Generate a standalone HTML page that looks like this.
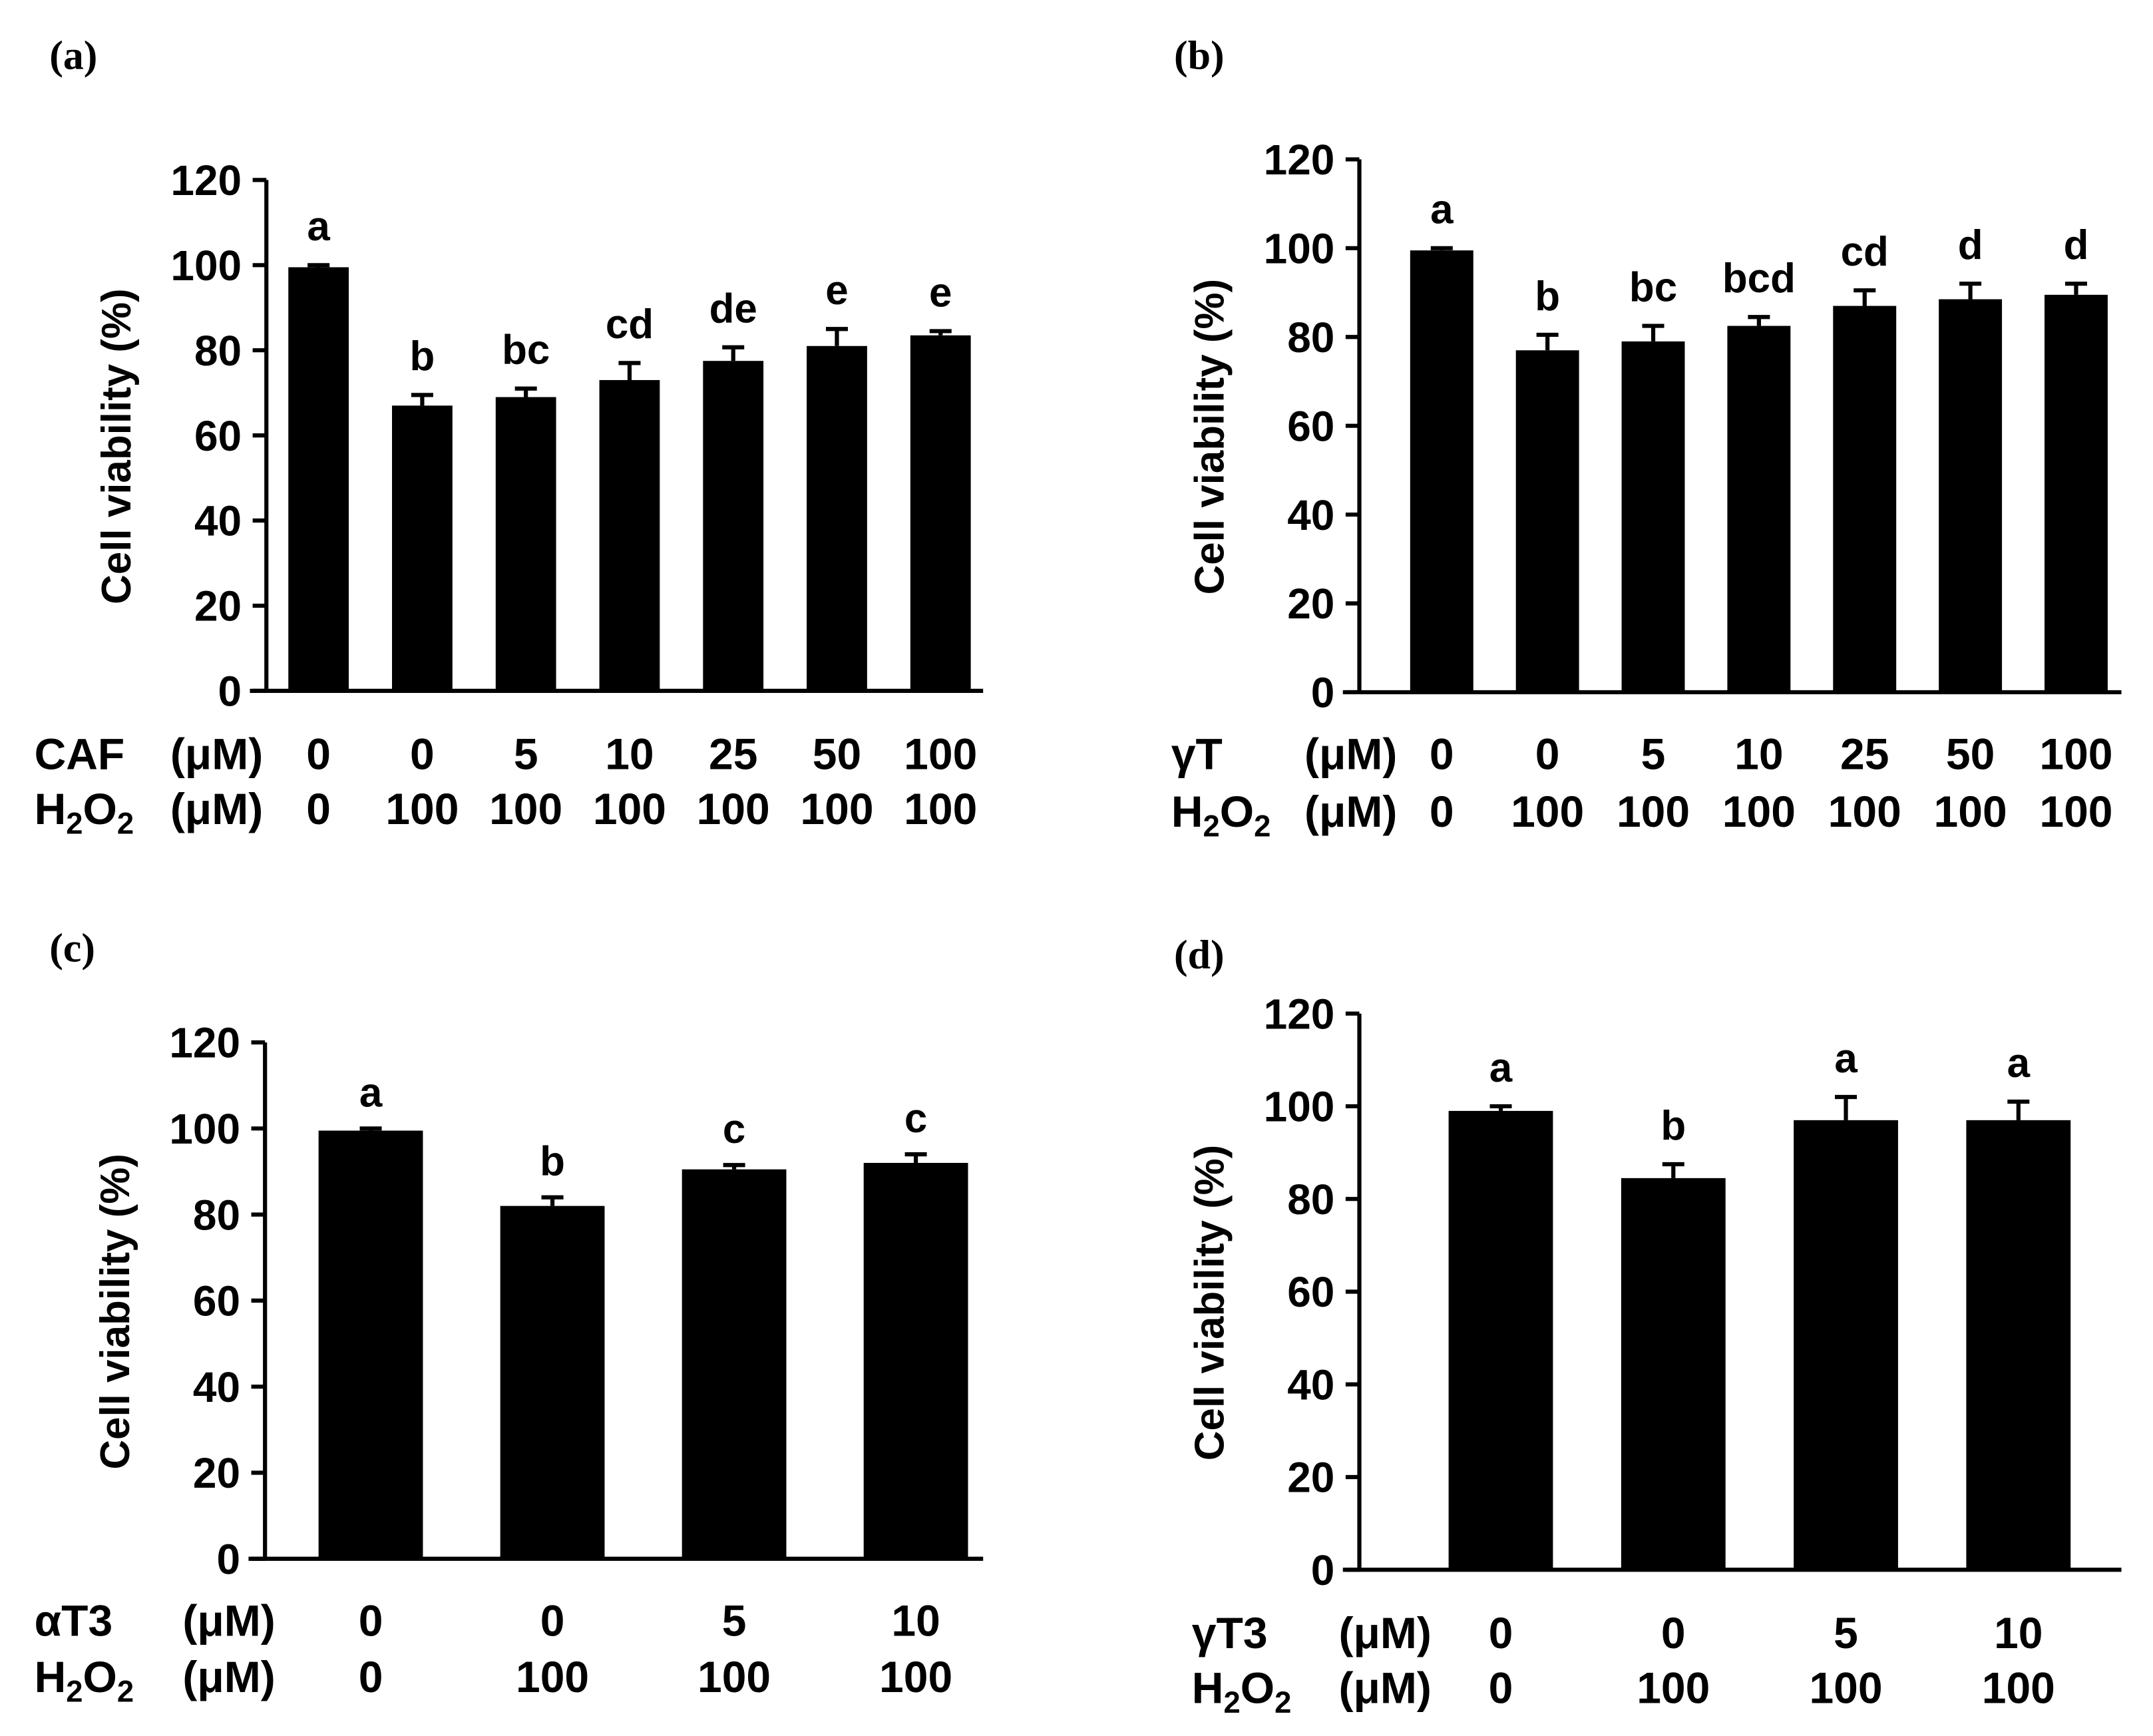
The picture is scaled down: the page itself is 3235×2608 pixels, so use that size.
<!DOCTYPE html>
<html><head><meta charset="utf-8"><style>
html,body{margin:0;padding:0;background:#fff;}
svg{display:block;}
text{font-family:"Liberation Sans",Arial,sans-serif;font-weight:bold;fill:#000;}
.pl{font-family:"Liberation Serif",serif;font-size:30px;}
</style></head><body>
<svg id="fig" width="3235" height="2608" viewBox="0 0 1568 1264" xmlns="http://www.w3.org/2000/svg">
<text class="pl" x="36" y="50">(a)</text>
<text class="pl" x="855" y="50">(b)</text>
<text class="pl" x="36" y="700">(c)</text>
<text class="pl" x="855" y="705">(d)</text>
</svg>
<script>
const yTicks=[0,20,40,60,80,100,120];
const aValues=[99.5,67,69,73,77.5,81,83.5];
const aErrors=[0.5,2.5,2,4,3.2,4,1];
const aLetters=["a","b","bc","cd","de","e","e"];
const aDose=["0","0","5","10","25","50","100"];
const aH2O2=["0","100","100","100","100","100","100"];
const bValues=[99.5,77,79,82.5,87,88.5,89.5];
const bErrors=[0.5,3.5,3.5,2,3.5,3.5,2.5];
const bLetters=["a","b","bc","bcd","cd","d","d"];
const bDose=["0","0","5","10","25","50","100"];
const bH2O2=["0","100","100","100","100","100","100"];
const cValues=[99.5,82,90.5,92];
const cErrors=[0.5,2,1,2];
const cLetters=["a","b","c","c"];
const cDose=["0","0","5","10"];
const cH2O2=["0","100","100","100"];
const dValues=[99,84.5,97,97];
const dErrors=[1,3,5,4];
const dLetters=["a","b","a","a"];
const dDose=["0","0","5","10"];
const dH2O2=["0","100","100","100"];

const NS="http://www.w3.org/2000/svg";
const svg=document.getElementById('fig');
function mk(tag,attrs,parent,txt){const e=document.createElementNS(NS,tag);for(const k in attrs)e.setAttribute(k,attrs[k]);if(txt!==undefined)e.textContent=txt;(parent||svg).appendChild(e);return e;}

function panel(id,cfg,values,errors,letters,dose,h2o2){
  const g=mk('g',{});
  
  
  const y=v=>cfg.y0-(v/120)*(cfg.y0-cfg.y120);
  const n=values.length;
  const x=i=>cfg.c0+i*(cfg.c1-cfg.c0)/(n-1);
  const ya=mk('line',{x1:cfg.ax,y1:cfg.y120,x2:cfg.ax,y2:cfg.y0+1,stroke:'#000','stroke-width':3},g);
  
  
  const xa=mk('line',{x1:cfg.ax-12,y1:cfg.y0,x2:cfg.xend,y2:cfg.y0,stroke:'#000','stroke-width':3},g);
  
  
  yTicks.forEach(t=>{
    mk('line',{x1:cfg.ax-10,y1:y(t),x2:cfg.ax,y2:y(t),stroke:'#000','stroke-width':3},g);
    const tl=mk('text',{x:cfg.ax-18,y:y(t)+11,'text-anchor':'end','font-size':31},g,String(t));
    
    
  });
  const tt=mk('text',{transform:`translate(${cfg.ax-99},${(cfg.y0+cfg.y120)/2+8}) rotate(-90)`,'text-anchor':'middle','font-size':30},g,'Cell viability (%)');
  
  
  values.forEach((v,i)=>{
    const cx=x(i),w=cfg.bw;
    const b=mk('rect',{x:cx-w/2,y:y(v),width:w,height:cfg.y0-y(v),fill:'#000'},g);
    
    
    const top=y(v+errors[i]);
    const e=mk('path',{d:`M${cx},${y(v)} V${top} M${cx-8},${top} H${cx+8}`,stroke:'#000','stroke-width':3,fill:'none'},g);
    
    
    const l=mk('text',{x:cx,y:top-cfg.lgap,'text-anchor':'middle','font-size':30},g,letters[i]);
    
    
    const d=mk('text',{x:cx,y:cfg.r1,'text-anchor':'middle','font-size':32},g,dose[i]);
    
    
    const h=mk('text',{x:cx,y:cfg.r2,'text-anchor':'middle','font-size':32},g,h2o2[i]);
    
    
  });
  const cn=mk('text',{x:cfg.nx,y:cfg.r1,'font-size':32},g,cfg.name);
  
  
  const u1=mk('text',{x:cfg.ux,y:cfg.r1,'font-size':32},g,'(μM)');
  
  
  const hn=mk('text',{x:cfg.nx,y:cfg.r2,'font-size':32},g);
  
  
  hn.innerHTML='H<tspan font-size="22" dy="7">2</tspan><tspan dy="-7">O</tspan><tspan font-size="22" dy="7">2</tspan>';
  const u2=mk('text',{x:cfg.ux,y:cfg.r2,'font-size':32},g,'(μM)');
  
  
}
panel('a',{name:'CAF',ax:194,y0:503,y120:131,c0:232,c1:685,bw:44,xend:716,r1:560,r2:600,nx:25,ux:124,lgap:18},aValues,aErrors,aLetters,aDose,aH2O2);
panel('b',{name:'γT',ax:990,y0:504,y120:116,c0:1050,c1:1512,bw:46,xend:1545,r1:560,r2:602,nx:853,ux:950,lgap:18},bValues,bErrors,bLetters,bDose,bH2O2);
panel('c',{name:'αT3',ax:193,y0:1135,y120:759,c0:270,c1:667,bw:76,xend:716,r1:1191,r2:1232,nx:25,ux:133,lgap:16},cValues,cErrors,cLetters,cDose,cH2O2);
panel('d',{name:'γT3',ax:990,y0:1143,y120:738,c0:1093,c1:1470,bw:76,xend:1545,r1:1200,r2:1240,nx:868,ux:975,lgap:18},dValues,dErrors,dLetters,dDose,dH2O2);
</script>
</body></html>
